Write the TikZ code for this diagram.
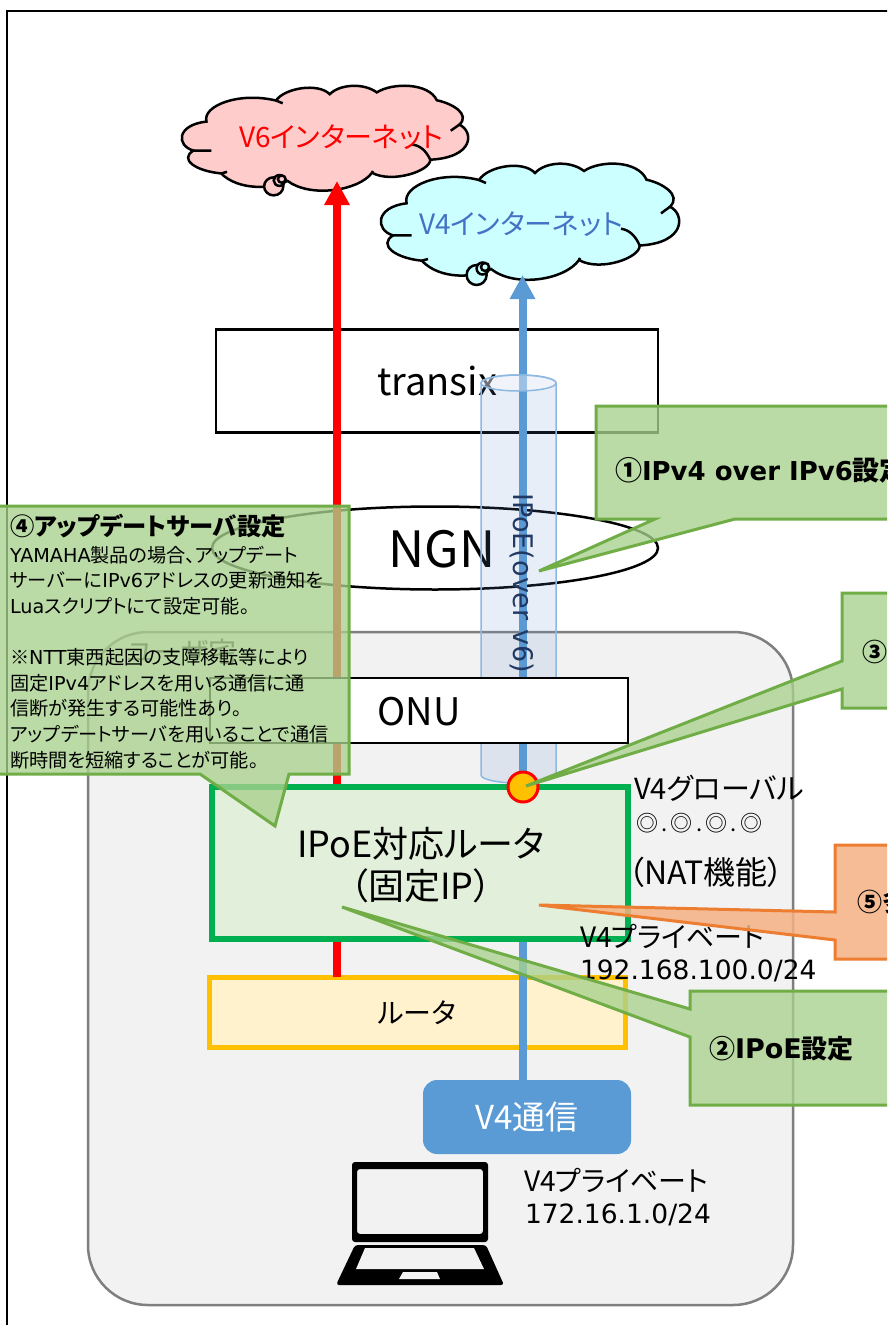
\documentclass[tikz,border=0pt]{standalone}
\usepackage{fontspec}
\setmainfont[RawFeature=+palt]{Noto Sans CJK JP}
\newfontfamily\dejav{DejaVu Sans}
\usetikzlibrary{arrows.meta,shapes.geometric}
\definecolor{cgf}{HTML}{A9D18E}
\definecolor{cgd}{HTML}{70AD47}
\definecolor{cof}{HTML}{F4B183}
\definecolor{cod}{HTML}{ED7D31}
\definecolor{v4blue}{HTML}{5B9BD5}
\definecolor{cylf}{HTML}{5F8ECA}
\definecolor{cyld}{HTML}{8DB8E2}
\definecolor{cl6}{HTML}{FFCCCC}
\definecolor{cl4}{HTML}{CCFFFF}
\definecolor{tx4}{HTML}{4472C4}
\definecolor{ynavy}{HTML}{203864}
\definecolor{gold}{HTML}{FFC000}
\definecolor{paleg}{HTML}{FFF2CC}
\definecolor{grn}{HTML}{00B050}
\definecolor{paleh}{HTML}{E2EFDA}
\definecolor{homef}{HTML}{F2F2F2}
\definecolor{homed}{HTML}{7F7F7F}
\newcommand\fsz[1]{\fontsize{#1}{#1}\selectfont}
\newcommand\cloudshape[1]{%
  \draw[cloudline,fill=#1] (27.6,38.3) .. controls (23,21) and (61,5) .. (100,15)
    .. controls (109,1) and (144,-5) .. (156,8)
    .. controls (166,-3) and (191,-5) .. (205,6)
    .. controls (221,-5) and (259,-5) .. (267.5,14.7)
    .. controls (283,18) and (303,30) .. (291,41.7)
    .. controls (306,49) and (307,78) .. (260.7,80.5)
    .. controls (261,93) and (221,107) .. (200,95)
    .. controls (186,115) and (136,123) .. (112,104)
    .. controls (96,113) and (61,115) .. (42.8,95.7)
    .. controls (16,93) and (-1,80) .. (14,70.4)
    .. controls (-4,65) and (-4,42) .. (27.6,38.3) -- cycle;
  \draw[cloudline] (100,15) -- (107,18)
    (291,41.7) -- (282,48.4)
    (260.7,80.5) .. controls (256,70) and (250,65) .. (242,63.7)
    (200,95) -- (201,93)
    (42.8,95.7) -- (49,94)
    (14,70.4) -- (32.7,70.4);
  \draw[cloudline,fill=#1] (97.6,110) circle[radius=10pt];
  \draw[cloudline,fill=#1] (103.6,103.5) circle[radius=6pt];
  \draw[cloudline,fill=#1] (106,102) circle[radius=4pt];
}
\tikzset{
  cloudline/.style={draw=black,line width=2.5pt},
  boxnode/.style={draw=black,line width=2.5pt,fill=white,inner sep=0pt,outer sep=0pt},
  callg/.style={draw=cgd,line width=3pt,fill=cgf,fill opacity=.78,line join=miter},
  callo/.style={draw=cod,line width=3pt,fill=cof,fill opacity=.85,line join=miter},
  lab/.style={inner sep=0pt,outer sep=0pt,anchor=west,text=black},
  mid/.style={inner sep=0pt,outer sep=0pt,align=center,text=black}
}
\begin{document}
\begin{tikzpicture}[x=1pt,y=-1pt]
\useasboundingbox (0,0) rectangle (887,1325);
\clip (0,0) rectangle (887,1325);
\fill[white] (0,0) rectangle (887,1325);
% frame
\coordinate (fa) at (7,1400);
\coordinate (fb) at (7,11);
\coordinate (fc) at (1000,11);
\draw[line width=2.5pt,black] (fa) -- (fb) -- (fc);
% home
\node[boxnode,draw=homed,fill=homef,rounded corners=60pt,minimum width=705pt,minimum height=673pt] (home) at (440.5,968.5) {};
\node[mid,text=black!85,font=\fsz{28}] (hometxt) at (182,652) {ユーザ宅};
% clouds
\begin{scope}[shift={(180,87)},xscale=.96,yscale=.903]
\cloudshape{cl6}
\end{scope}
\begin{scope}[shift={(379,165)}]
\cloudshape{cl4}
\end{scope}
\node[mid,text=red,font=\fsz{28}] (v6) at (341,137) {V6インターネット};
\node[mid,text=tx4,font=\fsz{28}] (v4) at (521,224) {V4インターネット};
\coordinate (v6tip) at (337,181);
\coordinate (v4tip) at (522.5,275);
% network boxes
\node[boxnode,minimum width=442pt,minimum height=103pt] (transix) at (437,381) {};
\node[mid,font=\fsz{38}] (transixt) at (437,381) {transix};
\node[boxnode,ellipse,minimum width=446pt,minimum height=83pt] (ngn) at (435,548) {};
\node[mid,font=\fsz{50}] (ngnt) at (442,549) {NGN};
% yellow + comm boxes placed before the lines they anchor
\node[boxnode,draw=gold,fill=paleg,line width=5pt,minimum width=416pt,minimum height=70pt] (rt) at (417.5,1012) {};
\node[mid,font=\fsz{28}] (rtt) at (417,1013) {ルータ};
\node[fill=v4blue,rounded corners=14pt,inner sep=0pt,minimum width=208pt,minimum height=74pt,text=white,font=\fsz{33}] (comm) at (527,1117) {V4通信};
% arrows
\draw[red,line width=8pt,-{Triangle[width=24pt,length=24pt]}] (rt.north -| v6tip) -- (v6tip);
\draw[v4blue,line width=8pt,-{Triangle[width=24pt,length=24pt]}] (comm.north -| v4tip) -- (v4tip);
% tunnel
\draw[cyld,line width=1.5pt,fill=cylf,fill opacity=.15] (481,383) -- (481,775) arc[start angle=180,end angle=360,x radius=37.5pt,y radius=8pt] -- (556,383) arc[start angle=0,end angle=180,x radius=37.5pt,y radius=8pt] -- cycle;
\draw[cyld,line width=1.5pt,fill=white,fill opacity=.4] (518.5,383) ellipse[x radius=37.5pt,y radius=8pt];
\node[mid,rotate=-90,text=ynavy,font=\fsz{27}\dejav] (ipoe) at (522,583) {IPoE(over v6)};
% ONU
\node[boxnode,minimum width=418pt,minimum height=65pt] (onu) at (419,710.5) {};
\node[mid,font=\fsz{38}] (onut) at (419,712) {ONU};
% router
\node[boxnode,draw=grn,fill=paleh,line width=6pt,minimum width=416pt,minimum height=152pt] (ipr) at (420,863) {};
\node[mid,font=\fsz{36}] (iprt) at (421,865) {IPoE対応ルータ\\[6pt]（固定IP）};
\node[circle,draw=red,fill=gold,line width=3pt,minimum size=30pt,inner sep=0pt] (dot) at (523,787) {};
% labels
\node[lab,font=\fsz{29}] (g1) at (634,788) {V4グローバル};
\node[lab,font=\fsz{22}] (g2) at (636,823) {◎\hspace{3.3pt}.\hspace{3.3pt}◎\hspace{3.3pt}.\hspace{3.3pt}◎\hspace{3.3pt}.\hspace{3.3pt}◎};
\node[lab,font=\fsz{32}] (g3) at (628,872) {（NAT機能）};
\node[lab,font=\fsz{28}] (p1) at (580,936) {V4プライベート};
\node[lab,font=\fsz{26.5}\dejav] (p2) at (580,971) {192.168.100.0/24};
\node[lab,font=\fsz{28}] (p3) at (524,1180) {V4プライベート};
\node[lab,font=\fsz{26.5}\dejav] (p4) at (525,1215) {172.16.1.0/24};
% laptop
\fill[black,even odd rule,rounded corners=3pt] (352,1162) rectangle (488,1242) (357,1169) rectangle (483,1234);
\fill[black,even odd rule,rounded corners=3pt] (355,1245) -- (486,1245) -- (504,1285) -- (336,1285) -- cycle;
\fill[homef] (365,1248) -- (474,1248) -- (484,1269) -- (356,1269) -- cycle;
\fill[homef] (403,1272) -- (437,1272) -- (440,1279) -- (399,1279) -- cycle;
% callouts
\draw[callg] (900,406) -- (596,406) -- (596,519) -- (655,519) -- (539,571) -- (735,519) -- (900,519);
\node[lab,font=\fsz{27}\bfseries] (c1) at (615,470) {①{\fsz{26}\dejav IPv4 over IPv6}設定};
\draw[callg] (900,593) -- (842,593) -- (842,661) -- (526,786) -- (842,689) -- (842,708) -- (900,708);
\node[lab,font=\fsz{25}\bfseries] (c3) at (862,652) {③};
\draw[callo] (900,845) -- (835,845) -- (835,912) -- (539,905) -- (835,940) -- (835,959) -- (900,959);
\node[lab,font=\fsz{25}\bfseries] (c5) at (857,902) {⑤多};
\draw[callg] (900,991) -- (690,991) -- (690,1009) -- (342,907) -- (690,1037) -- (690,1105) -- (900,1105);
\node[lab,font=\fsz{26}\bfseries] (c2) at (709,1049) {②{\fsz{27}\dejav IPoE}設定};
\draw[callg] (-10,506) -- (349,506) -- (349,774) -- (289,774) -- (275,826) -- (200,774) -- (-10,774) -- cycle;
\node[lab,font=\fsz{24.3}\bfseries] (c4t) at (10,526) {④アップデートサーバ設定};
\node[inner sep=0pt,outer sep=0pt,anchor=north west,align=left,text=black,font=\fontsize{19.2}{25.6}\selectfont] (c4) at (10,546) {%
{\dejav YAMAHA}製品の場合、アップデート\\
サーバーに{\dejav IPv6}アドレスの更新通知を\\
{\dejav Lua}スクリプトにて設定可能。\\
\mbox{}\\
※{\dejav NTT}東西起因の支障移転等により\\
固定{\dejav IPv4}アドレスを用いる通信に通\\
信断が発生する可能性あり。\\
アップデートサーバを用いることで通信\\
断時間を短縮することが可能。};
\end{tikzpicture}
\end{document}
